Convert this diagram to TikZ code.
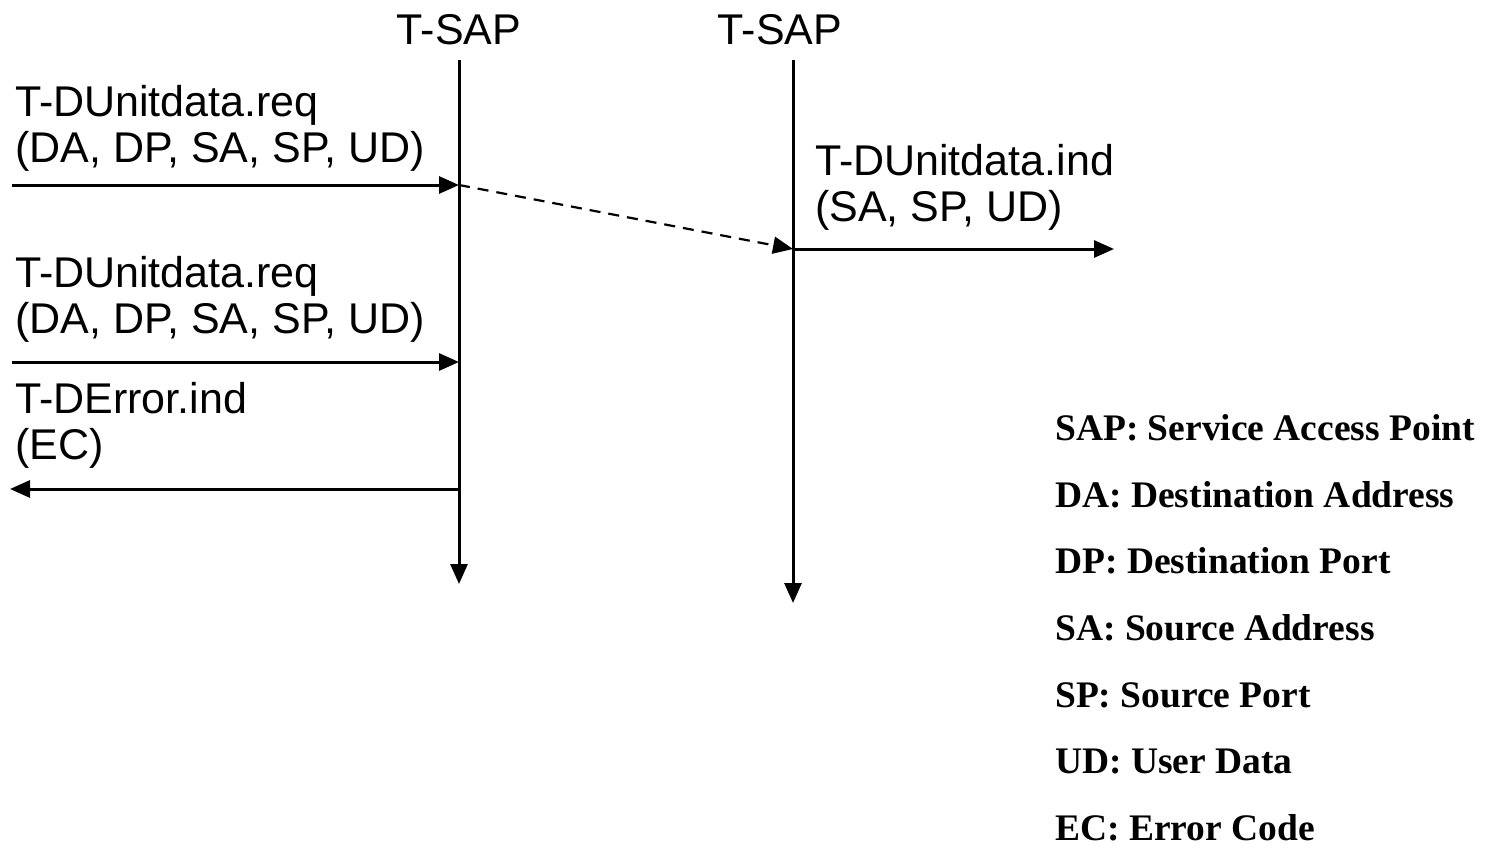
\documentclass[tikz,border=0pt]{standalone}
\usepackage{fontspec}
\setmainfont{Liberation Sans}
\newfontfamily\legendfont{Liberation Serif}
\usetikzlibrary{arrows.meta}
\begin{document}
\begin{tikzpicture}[x=1pt,y=-1pt,
  msg/.style={font=\fontsize{43}{46}\selectfont, anchor=base west, inner sep=0pt, align=left},
  sap/.style={font=\fontsize{43}{46}\selectfont, anchor=base, inner sep=0pt},
  legend/.style={font=\legendfont\bfseries\fontsize{37.5}{40}\selectfont, anchor=base west, inner sep=0pt},
  flow/.style={line width=3pt, -{Triangle[length=20pt,width=17pt]}},
  lifeline/.style={line width=3pt, -{Triangle[length=20pt,width=17pt]}},
  dashflow/.style={line width=2.2pt, dash pattern=on 11pt off 8pt, -{Triangle[length=20pt,width=17pt]}}]
\useasboundingbox (0,0) rectangle (1490,848);

% service access points
\node[sap] (sapA) at (459,45) {T-SAP};
\node[sap] (sapB) at (780,45) {T-SAP};
\coordinate (aTop) at (459,60);
\coordinate (aBot) at (459,584);
\coordinate (bTop) at (793,60);
\coordinate (bBot) at (793,603);
\draw[lifeline] (aTop) -- (aBot);
\draw[lifeline] (bTop) -- (bBot);

% primitives (anchored at the baseline of their last line)
\node[msg] (req1) at (15,162) {T-DUnitdata.req\\(DA, DP, SA, SP, UD)};
\node[msg] (ind1) at (815,221) {T-DUnitdata.ind\\(SA, SP, UD)};
\node[msg] (req2) at (15,333) {T-DUnitdata.req\\(DA, DP, SA, SP, UD)};
\node[msg] (err1) at (15,459) {T-DError.ind\\(EC)};

\coordinate (r1s) at (12,185);
\coordinate (r1e) at (459,185);
\coordinate (i1s) at (793,249);
\coordinate (i1e) at (1114,249);
\coordinate (r2s) at (12,362);
\coordinate (r2e) at (459,362);
\coordinate (e1s) at (459,489);
\coordinate (e1e) at (10,489);

\draw[flow] (r1s) -- (r1e);
\draw[dashflow] (r1e) -- (i1s);
\draw[flow] (i1s) -- (i1e);
\draw[flow] (r2s) -- (r2e);
\draw[flow] (e1s) -- (e1e);

% abbreviations
\node[legend] (l1) at (1055,440) {SAP: Service Access Point};
\node[legend] (l2) at (1055,507) {DA: Destination Address};
\node[legend] (l3) at (1055,573) {DP: Destination Port};
\node[legend] (l4) at (1055,640) {SA: Source Address};
\node[legend] (l5) at (1055,707) {SP: Source Port};
\node[legend] (l6) at (1055,773) {UD: User Data};
\node[legend] (l7) at (1055,840) {EC: Error Code};
\end{tikzpicture}
\end{document}
